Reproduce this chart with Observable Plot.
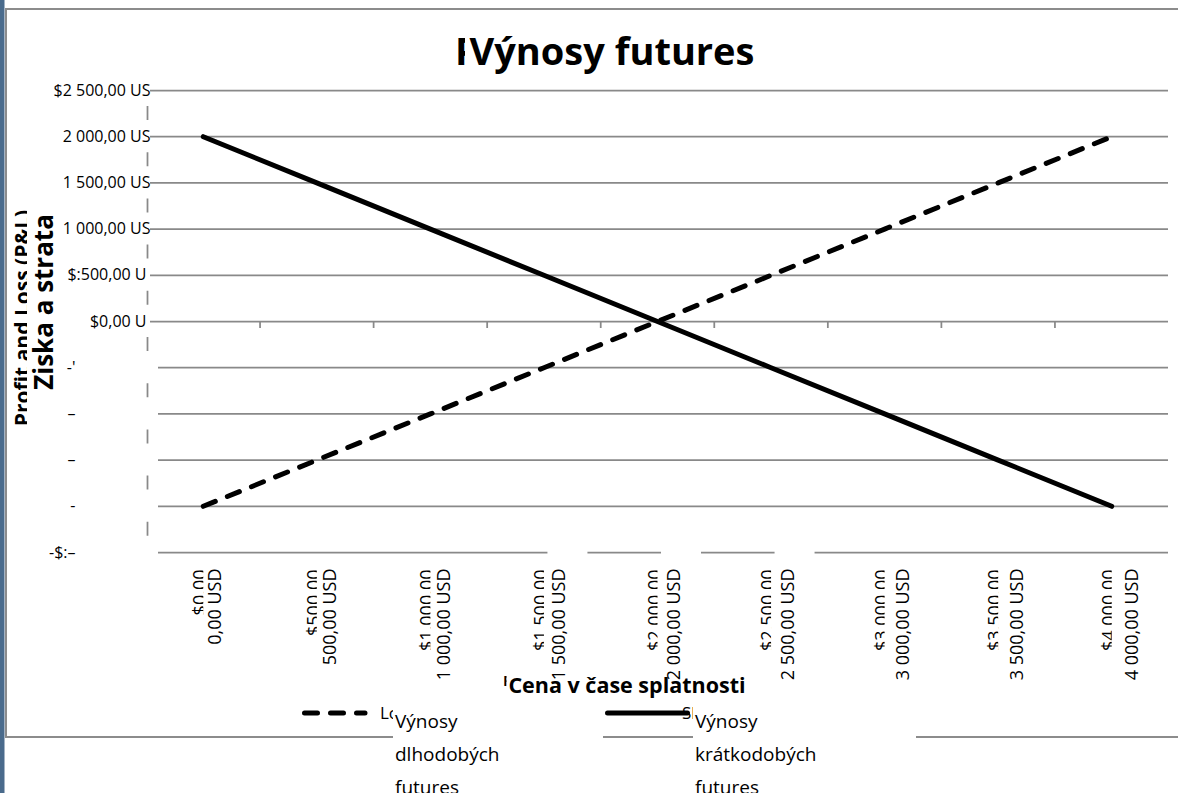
<!DOCTYPE html>
<html><head><meta charset="utf-8">
<script src="https://cdn.jsdelivr.net/npm/d3@7"></script>
<script src="https://cdn.jsdelivr.net/npm/@observablehq/plot@0.6"></script>
<style>body{margin:0;background:#fff;overflow:hidden} svg{display:block}</style>
</head><body><div id="chart"></div>
<script>
// ---- data ----
const prices = [0, 500, 1000, 1500, 2000, 2500, 3000, 3500, 4000];
const longPayoff = [-2000, -1500, -1000, -500, 0, 500, 1000, 1500, 2000];
const shortPayoff = [2000, 1500, 1000, 500, 0, -500, -1000, -1500, -2000];
const xLabelsEn = ["$0.00", "$500.00", "$1,000.00", "$1,500.00", "$2,000.00", "$2,500.00", "$3,000.00", "$3,500.00", "$4,000.00"];
const xLabelsSk = ["0,00 USD", "500,00 USD", "1 000,00 USD", "1 500,00 USD", "2 000,00 USD", "2 500,00 USD", "3 000,00 USD", "3 500,00 USD", "4 000,00 USD"];
const yTicks = [2500, 2000, 1500, 1000, 500, 0, -500, -1000, -1500, -2000, -2500];
const yLabels = ["$2 500,00 US", "2 000,00 US", "1 500,00 US", "1 000,00 US", "$:500,00 U", "$0,00 U", "-'", "–", "–", "-", "-$:–"];
const tickBoundaries = [250, 750, 1250, 1750, 2250, 2750, 3250, 3750];
const seriesEn = ["Long Futures Payoff", "Short Futures Payoff"];
const seriesSk = [["Výnosy", "dlhodobých", "futures"], ["Výnosy", "krátkodobých", "futures"]];
const titleEn = "Payoff of Futures";
const titleSk = "Výnosy futures";
const xTitleEn = "Price at Expiration";
const xTitleSk = "Cena v čase splatnosti";
const yTitleEn = "Profit and Loss (P&L)";
const yTitleSk = "Ziska a strata";
const labelledGaps = [1500, 2000, 2500];

// ---- layout ----
const W = 1178, H = 793, mL = 146, mR = 10, mT = 90, mB = 241;
const grid = "#898989";
const font = "'Open Sans', sans-serif";

const longData = prices.map((p, i) => ({price: p, pnl: longPayoff[i]}));
const shortData = prices.map((p, i) => ({price: p, pnl: shortPayoff[i]}));
const yData = yTicks.map((v, i) => ({v, label: yLabels[i]}));
const xData = prices.map((p, i) => ({p, en: xLabelsEn[i], sk: xLabelsSk[i]}));

const plot = Plot.plot({
  width: W, height: H,
  marginLeft: mL, marginRight: mR, marginTop: mT, marginBottom: mB,
  style: {fontFamily: font, background: "#fff", color: "#000"},
  x: {domain: [-250, 4250], axis: null},
  y: {domain: [-2500, 2500], axis: null},
  marks: [
    Plot.ruleY(yTicks.filter(v => v >= 0), {y: d => d, stroke: grid, strokeWidth: 1.75, insetLeft: 4}),
    Plot.ruleY(yTicks.filter(v => v < 0), {y: d => d, stroke: grid, strokeWidth: 1.75, insetLeft: 12}),
    Plot.ruleX([-250], {x: d => d, dx: 1, stroke: grid, strokeWidth: 1.75, strokeDasharray: "0,16,14,16.2"}),
    Plot.ruleX(tickBoundaries, {x: d => d, y1: 0, y2: 0, insetBottom: -7, stroke: grid, strokeWidth: 1.75}),
    Plot.line(longData, {x: "price", y: "pnl", stroke: "#000", strokeWidth: 5, strokeDasharray: "13,13", strokeLinecap: "round"}),
    Plot.line(shortData, {x: "price", y: "pnl", stroke: "#000", strokeWidth: 5}),
    Plot.text(yData.filter(d => d.v >= 1000), {y: "v", text: "label", frameAnchor: "left", textAnchor: "end", dx: 4, fontSize: 16, fill: "#000"}),
    Plot.text(yData.filter(d => d.v >= 0 && d.v < 1000), {y: "v", text: "label", frameAnchor: "left", textAnchor: "end", dx: 0, fontSize: 16, fill: "#000"}),
    Plot.text(yData.filter(d => d.v < 0), {y: "v", text: "label", frameAnchor: "left", textAnchor: "end", dx: -71, fontSize: 16, fill: "#000"}),
    Plot.text(xData, {x: "p", text: "en", rotate: -90, textAnchor: "end", frameAnchor: "bottom", dx: 3, dy: 17, fontSize: 18, fill: "#000"}),
    Plot.text(xData, {x: d => d.p * 1.009, text: "sk", rotate: -90, textAnchor: "end", frameAnchor: "bottom", dx: 18, dy: 16, fontSize: 18, fill: "#000", className: "xlab2"})
  ]
});
document.getElementById("chart").appendChild(plot);

const svg = d3.select(plot);
const xs = plot.scale("x");
const svgBox = plot.getBoundingClientRect();

// white boxes behind translated tick labels (they hide the foot of the original labels)
const lab2g = plot.querySelector("g.xlab2");
svg.selectAll("g.xlab2 text").each(function(d, i) {
  const r = this.getBoundingClientRect();
  const left = xs.apply(prices[i]) + 0.5;
  const right = r.right - svgBox.left + 1;
  svg.insert("rect", () => lab2g)
    .attr("x", left).attr("y", r.top - svgBox.top - 1)
    .attr("width", right - left).attr("height", r.height + 2).attr("fill", "#fff");
});

// border (open on the right, running past the window) and side strip
svg.insert("path", ":first-child").attr("d", `M${W},9H6V737H${W}`)
  .attr("fill", "none").attr("stroke", "#8c8c8c").attr("stroke-width", 2);
svg.insert("rect", ":first-child").attr("x", 0).attr("y", 0).attr("width", 4.5).attr("height", H).attr("fill", "#4a6b8c");

function box(x, y, w, h) {
  return svg.append("rect").attr("x", x).attr("y", y).attr("width", w).attr("height", h).attr("fill", "#fff");
}
function txt(t, x, y, o = {}) {
  const e = svg.append("text").attr("x", x).attr("y", y).text(t)
    .attr("font-size", o.size || 16).attr("font-weight", o.weight || "normal")
    .attr("text-anchor", o.anchor || "start").attr("fill", "#000").style("font-family", font);
  if (o.rotate) e.attr("transform", `rotate(${o.rotate},${x},${y})`);
  return e;
}

// gaps in bottom gridline left by label boxes
labelledGaps.forEach(v => box(xs.apply(v) + 4, 549, 40, 6));

// y-axis title
txt(yTitleEn, 29.5, 318, {size: 21, weight: "bold", anchor: "middle", rotate: -90});
box(27, 190, 34, 255);
txt(yTitleSk, 53, 302, {size: 26, weight: "bold", anchor: "middle", rotate: -90});

// chart title
txt(titleEn, 455, 65, {size: 38, weight: "bold"});
box(465, 24, 350, 62);
txt(titleSk, 612, 65, {size: 38, weight: "bold", anchor: "middle"});

// x-axis title
svg.append("clipPath").attr("id", "xtclip").append("rect").attr("x", 0).attr("y", 0).attr("width", 506.5).attr("height", H);
txt(xTitleEn, 503, 686, {size: 15, weight: "bold"}).attr("clip-path", "url(#xtclip)");
txt(xTitleSk, 627, 693, {size: 21.5, weight: "bold", anchor: "middle"});

// legend
svg.append("line").attr("x1", 304.5).attr("x2", 365).attr("y1", 713).attr("y2", 713)
  .attr("stroke", "#000").attr("stroke-width", 5).attr("stroke-dasharray", "13,13").attr("stroke-linecap", "round");
txt(seriesEn[0], 380, 719, {size: 17});
box(393, 703, 210, 90);
seriesSk[0].forEach((s, i) => txt(s, 395, 728 + i * 33, {size: 19}));

svg.append("line").attr("x1", 607.5).attr("x2", 687.5).attr("y1", 713).attr("y2", 713)
  .attr("stroke", "#000").attr("stroke-width", 5).attr("stroke-linecap", "round");
txt(seriesEn[1], 682, 719, {size: 17});
box(693, 703, 223, 90);
seriesSk[1].forEach((s, i) => txt(s, 695, 728 + i * 33, {size: 19}));
</script>
</body></html>
